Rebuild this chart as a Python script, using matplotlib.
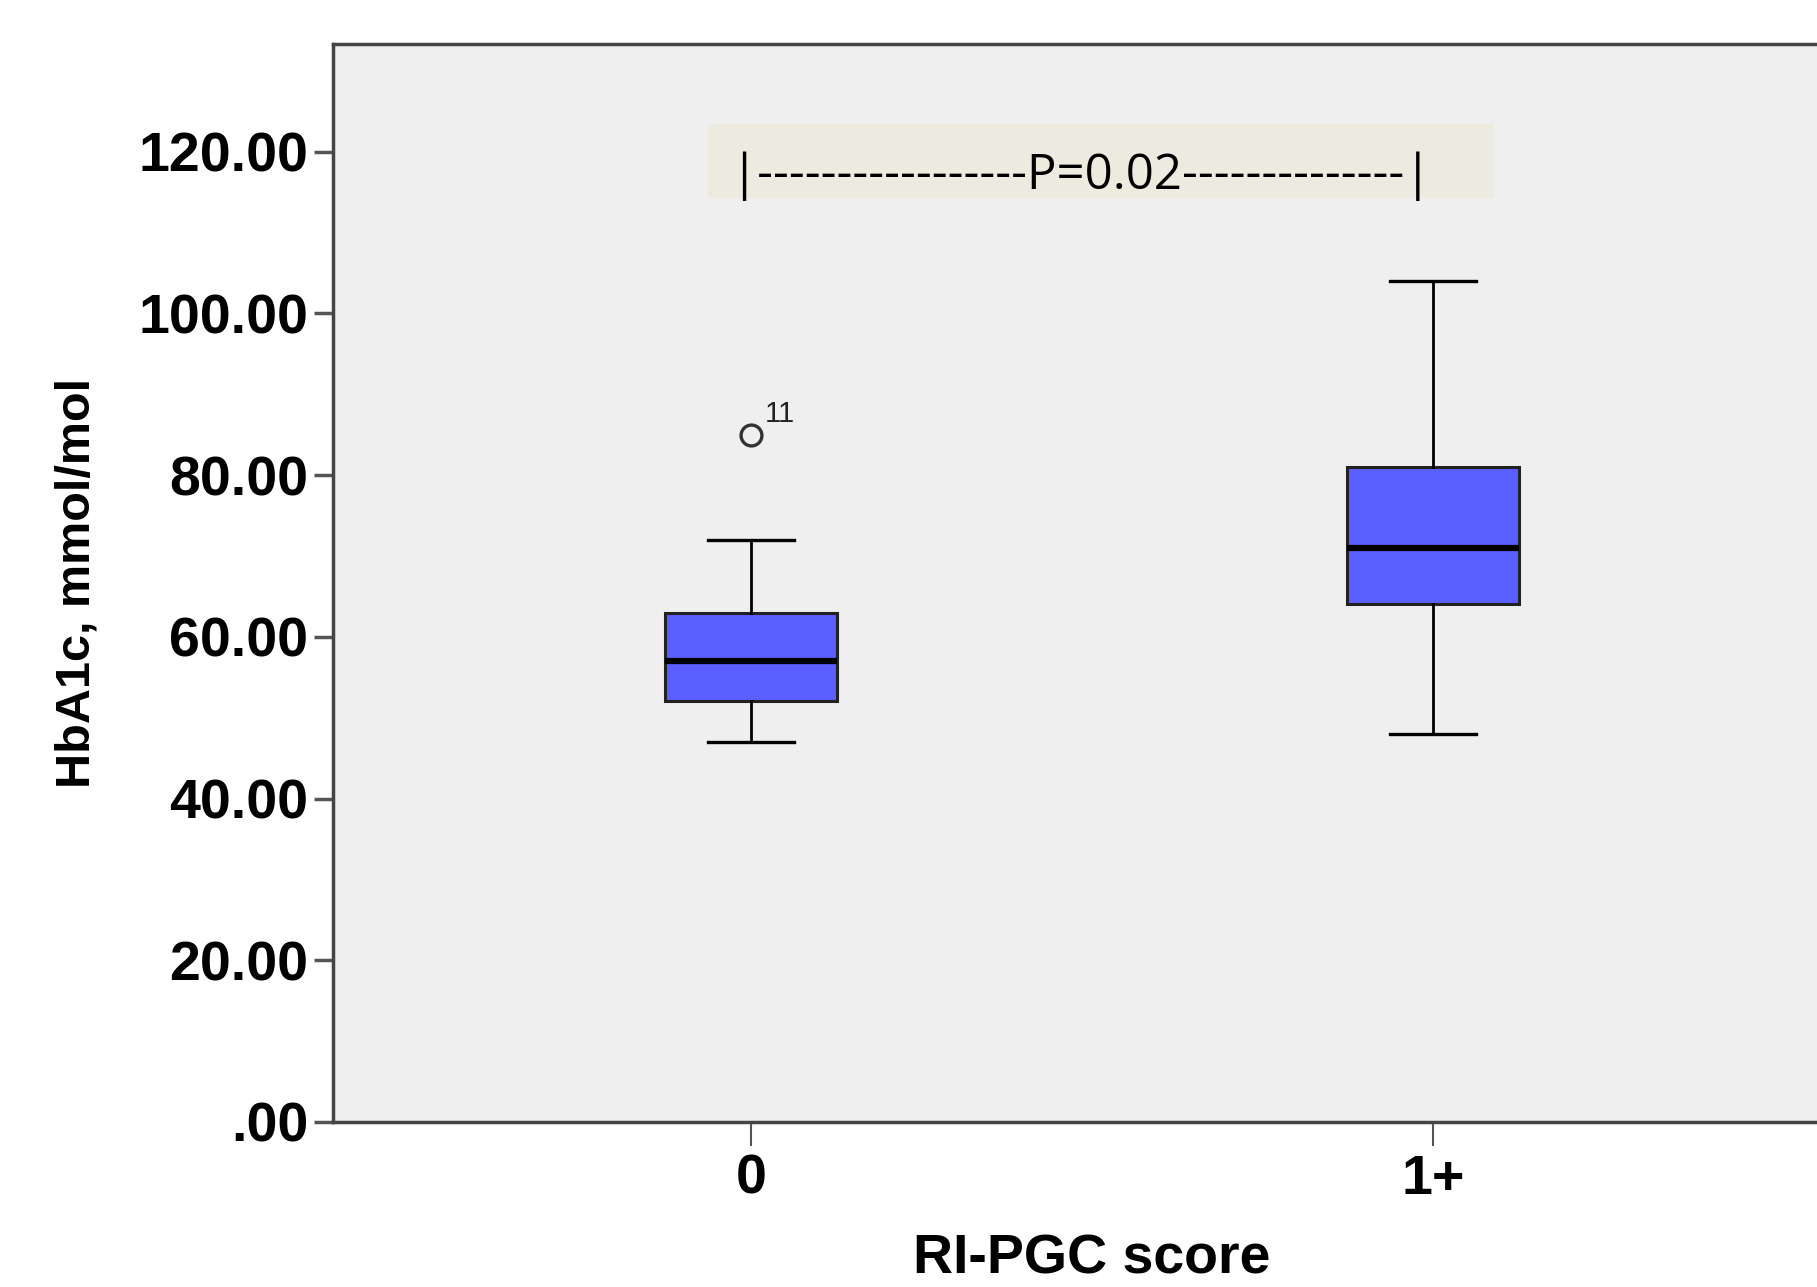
import matplotlib
matplotlib.use("Agg")
import matplotlib.pyplot as plt
from matplotlib.patches import Rectangle

# ---- data ----
categories = ["0", "1+"]
whisker_low = [47.0, 48.0]
q1 = [52.0, 64.0]
median = [57.0, 71.0]
q3 = [63.0, 81.0]
whisker_high = [72.0, 104.0]
outliers = [[85.0], []]
outlier_labels = [["11"], []]
yticks = [0, 20, 40, 60, 80, 100, 120]
ytick_labels = [".00", "20.00", "40.00", "60.00", "80.00", "100.00", "120.00"]
p_text = "|-----------------P=0.02--------------|"

W, H = 1817, 1287
fig = plt.figure(figsize=(W / 100, H / 100), dpi=100)
fig.patch.set_facecolor("white")

left, right, top, bottom = 333, 1851, 44, 1122
ax = fig.add_axes([left / W, 1 - bottom / H, (right - left) / W, (bottom - top) / H])
ax.set_facecolor("#efefef")

stats = []
for i, c in enumerate(categories):
    stats.append(dict(label=c, whislo=whisker_low[i], q1=q1[i], med=median[i],
                      q3=q3[i], whishi=whisker_high[i], fliers=outliers[i]))

positions = list(range(len(categories)))
ax.bxp(stats, positions=positions, widths=0.252, patch_artist=True,
       boxprops=dict(facecolor="#5b5fff", edgecolor="#222222", linewidth=2.2),
       medianprops=dict(color="black", linewidth=4.5),
       whiskerprops=dict(color="black", linewidth=2),
       capprops=dict(color="black", linewidth=2.4),
       flierprops=dict(marker="o", markerfacecolor="none", markeredgecolor="#333333",
                       markersize=15, markeredgewidth=2.4, linestyle="none"),
       capwidths=0.126)

for i, (vals, labs) in enumerate(zip(outliers, outlier_labels)):
    for v, l in zip(vals, labs):
        ax.annotate(l, (positions[i], v), xytext=(10, 9), textcoords="offset points",
                    fontsize=21, color="#222222", family="Liberation Sans")

ax.set_xlim(-0.612, 1.612)
ax.set_ylim(0, 133.3)
ax.set_yticks(yticks)
ax.set_yticklabels(ytick_labels, fontsize=40, fontweight="bold", family="Liberation Sans")
ax.set_xticks(positions)
ax.set_xticklabels(categories, fontsize=40, fontweight="bold", family="Liberation Sans")
ax.tick_params(axis="y", length=14, width=2.5, color="#555555", pad=4)
ax.tick_params(axis="x", length=17, width=1.5, color="#555555", pad=6)

for s in ["left", "bottom", "top"]:
    ax.spines[s].set_color("#444444")
    ax.spines[s].set_linewidth(2.5)
ax.spines["right"].set_visible(False)

ax.set_ylabel("HbA1c, mmol/mol", fontsize=35, fontweight="bold", family="Liberation Sans",
              labelpad=28)
ax.set_xlabel("RI-PGC score", fontsize=40, fontweight="bold", family="Liberation Sans",
              labelpad=20)

# significance annotation box
fig.patches.append(Rectangle((708 / W, 1 - 198 / H), (1494 - 708) / W, (198 - 124) / H,
                             transform=fig.transFigure, facecolor="#edebe0",
                             edgecolor="none", zorder=5))
fig.text(1081 / W, 1 - 176 / H, p_text, ha="center", va="center", fontsize=35.5,
         family="Open Sans", color="black", zorder=6)

fig.savefig("out.png", dpi=100)
